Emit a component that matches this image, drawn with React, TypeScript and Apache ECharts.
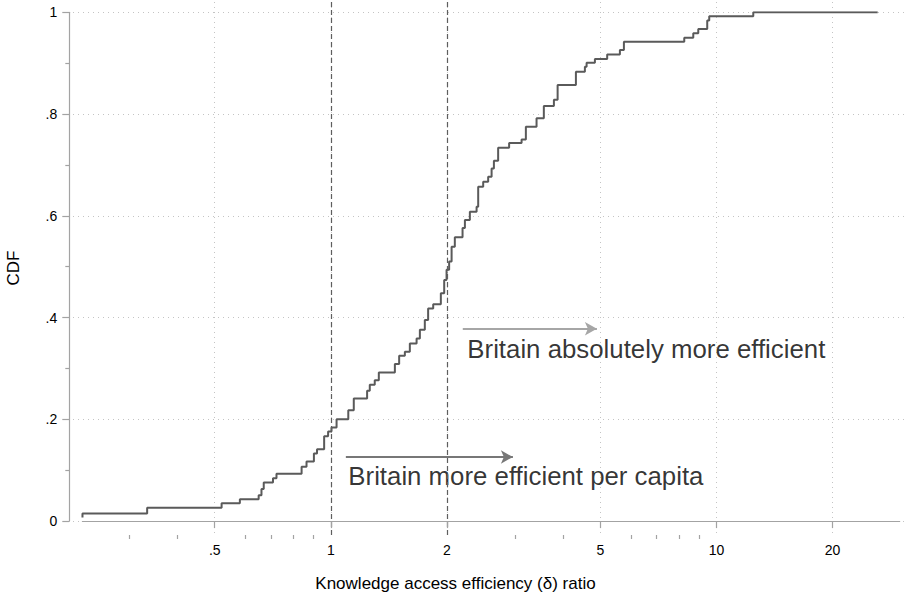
import React, { useEffect, useRef } from 'react';
import * as echarts from 'echarts';

// CDF step points (x = knowledge access efficiency ratio, y = cumulative share)
const cdfX = [0.227, 0.227, 0.334, 0.521, 0.581, 0.650, 0.661, 0.670, 0.708, 0.723, 0.840, 0.865, 0.904, 0.921, 0.961, 0.984, 1.004, 1.035, 1.110, 1.147, 1.242, 1.262, 1.300, 1.332, 1.466, 1.504, 1.556, 1.603, 1.669, 1.702, 1.753, 1.788, 1.843, 1.929, 1.968, 1.996, 2.027, 2.057, 2.097, 2.196, 2.227, 2.294, 2.388, 2.411, 2.484, 2.559, 2.612, 2.648, 2.716, 2.900, 3.124, 3.205, 3.416, 3.568, 3.789, 3.874, 4.321, 4.559, 4.606, 4.840, 5.208, 5.619, 5.755, 8.252, 8.708, 8.972, 9.465, 9.579, 12.46, 26.19];
const cdfY = [0.007, 0.015, 0.026, 0.035, 0.043, 0.051, 0.063, 0.076, 0.084, 0.093, 0.107, 0.117, 0.133, 0.141, 0.167, 0.176, 0.184, 0.200, 0.218, 0.241, 0.256, 0.268, 0.277, 0.292, 0.309, 0.325, 0.333, 0.349, 0.359, 0.376, 0.395, 0.418, 0.426, 0.448, 0.474, 0.494, 0.510, 0.539, 0.558, 0.576, 0.592, 0.608, 0.618, 0.657, 0.667, 0.677, 0.693, 0.708, 0.734, 0.743, 0.750, 0.775, 0.792, 0.816, 0.828, 0.857, 0.883, 0.893, 0.901, 0.908, 0.917, 0.926, 0.942, 0.950, 0.959, 0.967, 0.984, 0.992, 1.0, 1.0];

const xRange = [0.2269, 29.87];
const xMajorTicks = [0.5, 1, 2, 5, 10, 20];
const xMajorLabels = ['.5', '1', '2', '5', '10', '20'];
const xMinorTicks = [0.3, 0.4, 0.6, 0.7, 0.8, 0.9, 3, 4, 6, 7, 8, 9];
const yRange = [0, 1];
const yInterval = 0.2;
const refLinesX = [1, 2];

const arrowStartX = [2.199, 1.094];
const arrowEndX = [4.898, 2.966];
const arrowY = [0.378, 0.126];
const arrowColors = ['#a6a6a6', '#777777'];
const noteText = ['Britain absolutely more efficient', 'Britain more efficient per capita'];
const noteX = [2.253, 1.107];
const noteY = [0.338, 0.089];

const xTitle = 'Knowledge access efficiency (δ) ratio';
const yTitle = 'CDF';

const FONT = '"Liberation Sans", Arial, sans-serif';
const AXIS_GRAY = '#a3a3a3';
const GRID_GRAY = '#c4c4c4';

export default function App() {
  const ref = useRef<HTMLDivElement>(null);
  useEffect(() => {
    const chart = echarts.init(ref.current!, null, { renderer: 'svg' });
    const xFmt = (v: number) => {
      const i = xMajorTicks.findIndex((t) => Math.abs(t - v) < 1e-6);
      return i >= 0 ? xMajorLabels[i] : '';
    };
    const yFmt = (v: number) => {
      if (Math.abs(v) < 1e-9) return '0';
      if (Math.abs(v - 1) < 1e-9) return '1';
      return v.toFixed(1).replace(/^0/, '');
    };
    const gridBase = { containLabel: false, outerBoundsMode: 'none' } as any;
    const option: any = {
      animation: false,
      backgroundColor: '#ffffff',
      textStyle: { fontFamily: FONT },
      grid: [
        { ...gridBase, left: 82.4, right: 11.3, top: 12.3, bottom: 70.9 },
        { ...gridBase, left: 82.4, right: 11.3, top: 2, bottom: 57 },
        { ...gridBase, left: 73, right: 6, top: 12.3, bottom: 70.9 },
      ],
      xAxis: [
        {
          gridIndex: 0, type: 'log', logBase: 10, min: xRange[0], max: xRange[1],
          position: 'bottom', offset: 13.9, z: 5,
          axisLine: { show: true, lineStyle: { color: AXIS_GRAY, width: 1.2 } },
          axisTick: { show: true, length: 7, customValues: xMajorTicks, lineStyle: { color: AXIS_GRAY, width: 1.2 } },
          axisLabel: { show: true, customValues: xMajorTicks, formatter: xFmt, color: '#000', fontSize: 14, fontFamily: FONT, margin: 8 },
          splitLine: { show: false }, minorTick: { show: false }, minorSplitLine: { show: false },
        },
        {
          gridIndex: 0, type: 'log', logBase: 10, min: xRange[0], max: xRange[1],
          position: 'bottom', offset: 13.9, z: 5,
          axisLine: { show: false },
          axisTick: { show: true, length: 4, customValues: xMinorTicks, lineStyle: { color: AXIS_GRAY, width: 1.2 } },
          axisLabel: { show: false },
          splitLine: { show: false },
        },
        {
          gridIndex: 1, type: 'log', logBase: 10, min: xRange[0], max: xRange[1],
          axisLine: { show: false },
          axisTick: { show: false, customValues: xMajorTicks },
          axisLabel: { show: false },
          splitLine: { show: true, lineStyle: { color: GRID_GRAY, width: 1, type: [1, 4] } },
        },
        {
          gridIndex: 2, type: 'value', min: 0, max: 1, show: false,
        },
      ],
      yAxis: [
        {
          gridIndex: 0, type: 'value', min: yRange[0], max: yRange[1], interval: yInterval,
          position: 'left', offset: 13.1, z: 5,
          axisLine: { show: true, lineStyle: { color: AXIS_GRAY, width: 1.2 } },
          axisTick: { show: true, length: 7, lineStyle: { color: AXIS_GRAY, width: 1.2 } },
          minorTick: { show: true, splitNumber: 2, length: 4, lineStyle: { color: AXIS_GRAY, width: 1.2 } },
          axisLabel: { show: true, formatter: yFmt, color: '#000', fontSize: 14, fontFamily: FONT, margin: 12 },
          splitLine: { show: false },
        },
        { gridIndex: 1, type: 'value', min: 0, max: 1, show: false },
        {
          gridIndex: 2, type: 'value', min: yRange[0], max: yRange[1], interval: yInterval,
          axisLine: { show: false }, axisTick: { show: false }, axisLabel: { show: false },
          splitLine: { show: true, lineStyle: { color: GRID_GRAY, width: 1, type: [1, 4] } },
        },
      ],
      series: [
        {
          type: 'line', name: 'refLines', xAxisIndex: 2, yAxisIndex: 1, data: [],
          markLine: {
            silent: true, symbol: ['none', 'none'], animation: false,
            label: { show: false },
            lineStyle: { color: '#5e5e5e', width: 1.2, type: [5, 3] },
            data: refLinesX.map((v) => ({ xAxis: v })),
          },
        },
        {
          type: 'line', name: 'CDF', xAxisIndex: 0, yAxisIndex: 0, step: 'end',
          showSymbol: false, symbol: 'none', z: 3,
          lineStyle: { color: '#5a5a5a', width: 2 },
          data: cdfX.map((x, i) => [x, cdfY[i]]),
          markLine: {
            silent: true, symbol: ['none', 'arrow'], symbolSize: [10, 12], animation: false,
            label: { show: false },
            data: arrowStartX.map((x, i) => [
              { coord: [x, arrowY[i]], lineStyle: { color: arrowColors[i], width: 2, type: 'solid' }, itemStyle: { color: arrowColors[i] } },
              { coord: [arrowEndX[i], arrowY[i]], lineStyle: { color: arrowColors[i], width: 2, type: 'solid' }, itemStyle: { color: arrowColors[i] } },
            ]),
          },
        },
        {
          type: 'scatter', name: 'notes', xAxisIndex: 0, yAxisIndex: 0, symbolSize: 1,
          itemStyle: { color: 'rgba(0,0,0,0)' }, silent: true, z: 4,
          label: { show: true, position: 'right', distance: 0, formatter: '{b}', color: '#000000', fontSize: 25.8, fontFamily: FONT },
          data: noteX.map((x, i) => ({ name: noteText[i], value: [x, noteY[i]] })),
        },
      ],
      graphic: [
        {
          type: 'text', x: 455.5, y: 583, z: 10,
          style: { text: xTitle, fill: '#000', font: `17px ${FONT}`, textAlign: 'center', textVerticalAlign: 'middle' },
        },
        {
          type: 'text', x: 13, y: 268, rotation: Math.PI / 2, z: 10,
          style: { text: yTitle, fill: '#000', font: `17px ${FONT}`, textAlign: 'center', textVerticalAlign: 'middle' },
        },
      ],
    };
    chart.setOption(option);
    return () => chart.dispose();
  }, []);
  return <div ref={ref} style={{ position: 'fixed', left: 0, top: 0, width: 911, height: 592, background: '#fff' }} />;
}
